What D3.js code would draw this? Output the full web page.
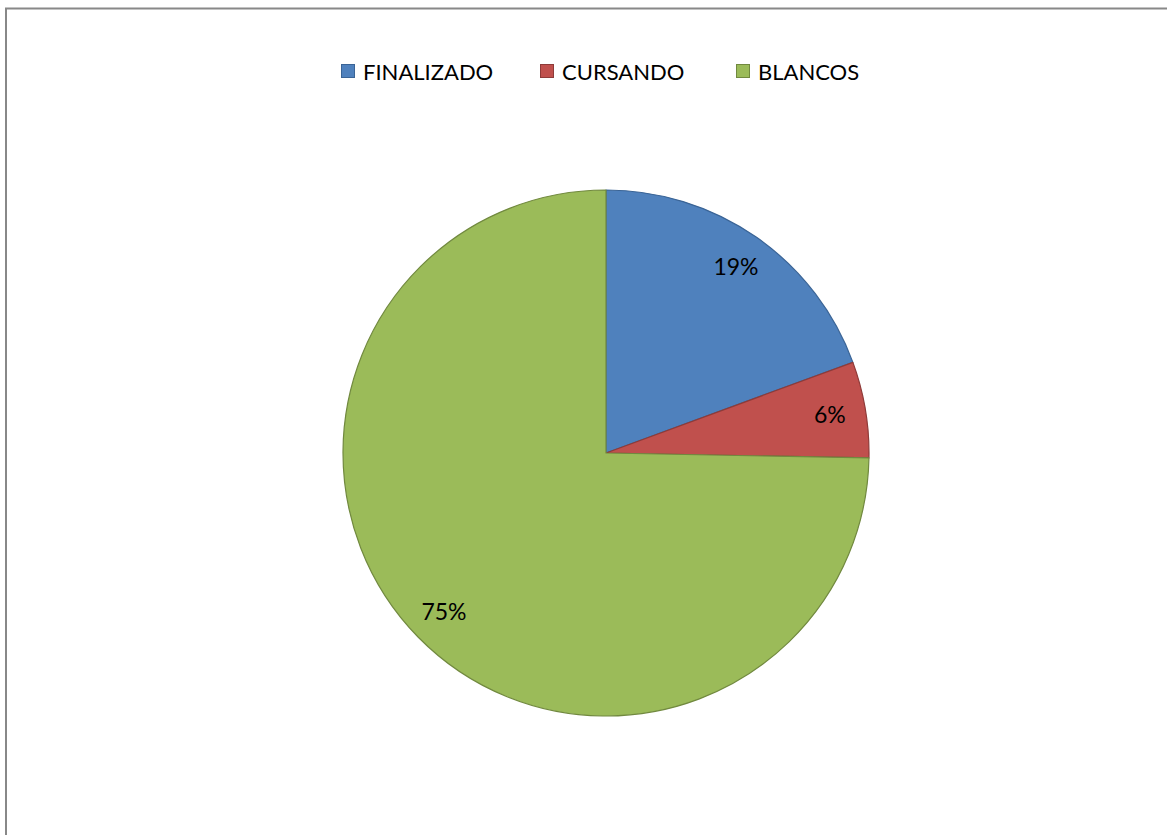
<!DOCTYPE html>
<html><head><meta charset="utf-8">
<script src="https://cdn.jsdelivr.net/npm/d3@7"></script>
<style>html,body{margin:0;padding:0;background:#fff;}svg{display:block;}</style>
</head><body>
<svg id="chart" width="1167" height="835"></svg>
<script>
const categories = ["FINALIZADO", "CURSANDO", "BLANCOS"];
const values = [19.4, 5.9, 74.7];
const labels = ["19%", "6%", "75%"];
const fills = ["#4F81BD", "#C0504D", "#9BBB59"];
const strokes = ["#3A6496", "#8E3B39", "#71893F"];

const svg = d3.select("#chart");
const font = "Lato, 'Open Sans', sans-serif";

// chart border
svg.append("rect").attr("x", 6).attr("y", 8.5).attr("width", 1200).attr("height", 900)
  .attr("fill", "none").attr("stroke", "#888").attr("stroke-width", 2);

const cx = 606, cy = 453, R = 263;
const data = categories.map((c, i) => ({ cat: c, value: values[i], label: labels[i], i }));
const pie = d3.pie().value(d => d.value).sort(null);
const arc = d3.arc().innerRadius(0).outerRadius(R);
const labelArc = d3.arc().innerRadius(227).outerRadius(227);

const g = svg.append("g").attr("transform", `translate(${cx},${cy})`);
const arcs = pie(data);
g.selectAll("path").data(arcs).join("path")
  .attr("d", arc)
  .attr("fill", d => fills[d.data.i])
  .attr("stroke", d => strokes[d.data.i])
  .attr("stroke-width", 1.2)
  .attr("stroke-linejoin", "round");

g.selectAll("text").data(arcs).join("text")
  .attr("transform", d => `translate(${labelArc.centroid(d)})`)
  .attr("text-anchor", "middle").attr("dy", "0.35em")
  .attr("font-family", font).attr("font-size", 23).attr("fill", "#000")
  .text(d => d.data.label);

// legend
const legendX = [341, 540, 736];
const lg = svg.append("g");
const items = lg.selectAll("g").data(data).join("g")
  .attr("transform", (d, i) => `translate(${legendX[i]},0)`);
items.append("rect").attr("x", 0.5).attr("y", 64.5).attr("width", 13).attr("height", 13)
  .attr("fill", d => fills[d.i]).attr("stroke", d => strokes[d.i]).attr("stroke-width", 1);
items.append("text").attr("x", 22).attr("y", 72).attr("dy", "0.35em")
  .attr("font-family", font).attr("font-size", 22).attr("fill", "#000")
  .text(d => d.cat);
</script>
</body></html>
